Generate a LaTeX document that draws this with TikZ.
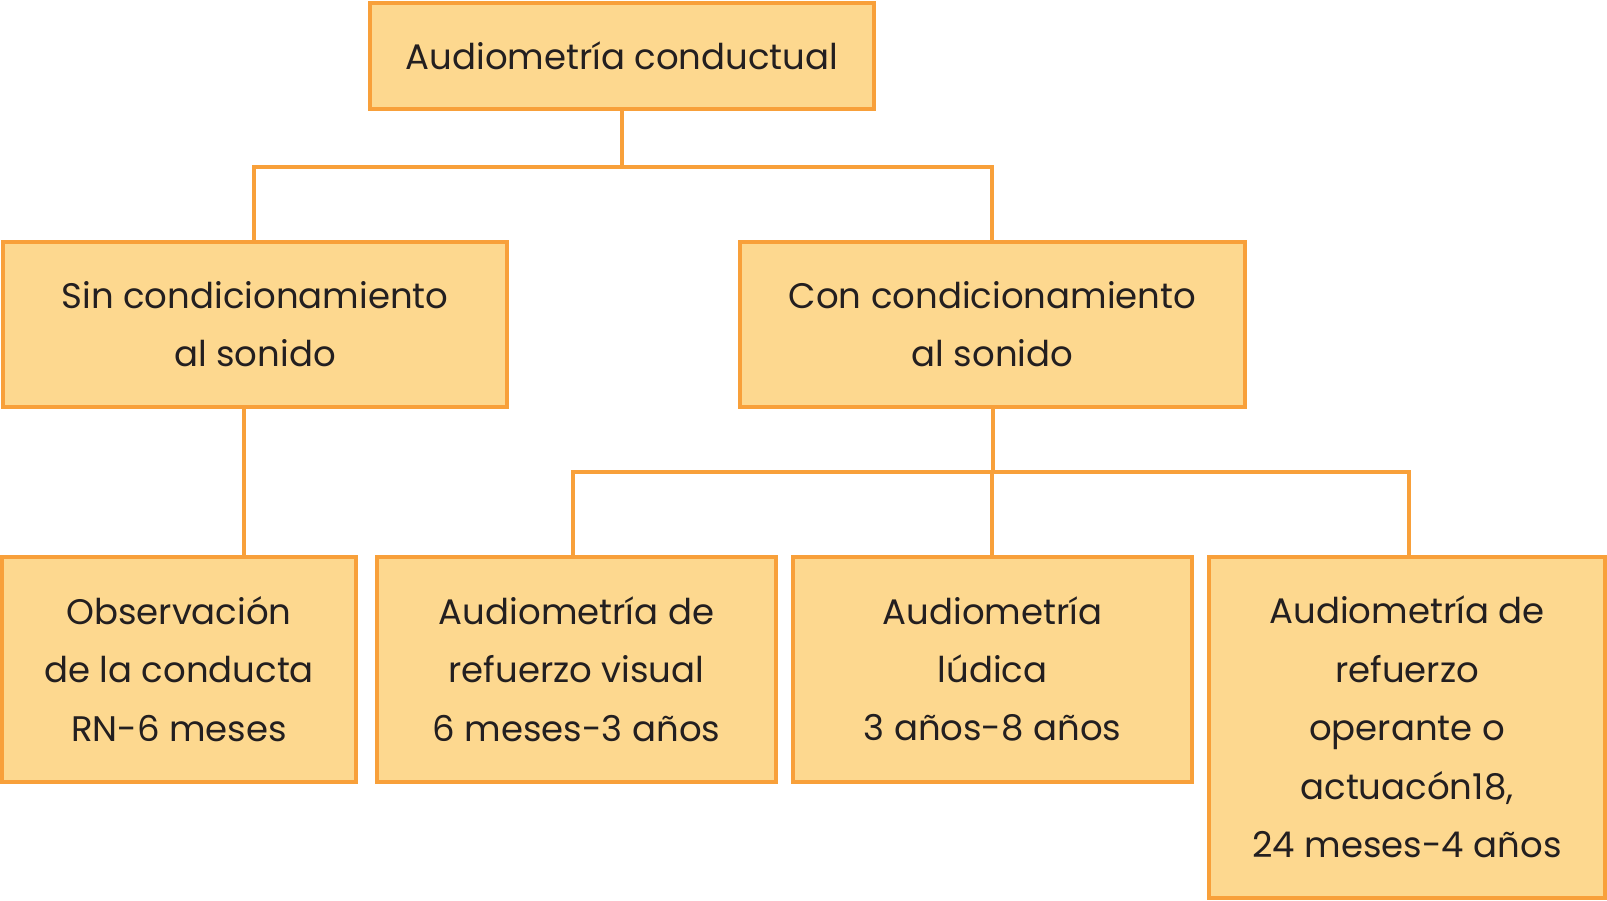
\documentclass[tikz,border=0pt]{standalone}
\usepackage{fontspec}
\setmainfont{Poppins}
\definecolor{boxfill}{HTML}{FDD88F}
\definecolor{boxline}{HTML}{F8A03A}
\definecolor{txt}{HTML}{231F20}
\tikzset{
  box/.style={draw=boxline, fill=boxfill, line width=4pt, align=center, inner sep=0pt,
    text=txt, font=\fontsize{35.5}{58.4}\selectfont},
  conn/.style={draw=boxline, line width=4pt, line cap=rect}
}
\begin{document}
\begin{tikzpicture}[x=1pt,y=-1pt]
\useasboundingbox (0,0) rectangle (1607,900);
\coordinate (h1L) at (254,167);
\coordinate (h1R) at (992,167);
\coordinate (s2) at (244,407);
\coordinate (h2L) at (573,472);
\coordinate (h2M) at (992,472);
\coordinate (h2R) at (1409,472);
\node[box, minimum width=504pt, minimum height=106pt] (top) at (622,56) {Audiometría conductual};
\node[box, minimum width=504pt, minimum height=165pt] (sin) at (255,324) {Sin condicionamiento\\al sonido};
\node[box, minimum width=505pt, minimum height=165pt] (con) at (992.5,324) {Con condicionamiento\\al sonido};
\node[box, minimum width=354pt, minimum height=225pt] (obs) at (179,669) {Observación\\de la conducta\\RN-6 meses};
\node[box, minimum width=399pt, minimum height=225pt] (vis) at (576.5,669) {Audiometría de\\refuerzo visual\\6 meses-3 años};
\node[box, minimum width=399pt, minimum height=225pt] (lud) at (992.5,669) {Audiometría\\lúdica\\3 años-8 años};
\node[box, minimum width=396pt, minimum height=341pt] (ope) at (1407,727) {Audiometría de\\refuerzo\\operante o\\actuacón18,\\24 meses-4 años};
\draw[conn] (top.south) -- (top.south |- h1L);
\draw[conn] (h1L) -- (h1R);
\draw[conn] (h1L) -- (h1L |- sin.north);
\draw[conn] (h1R) -- (h1R |- con.north);
\draw[conn] (s2) -- (s2 |- obs.north);
\draw[conn] (con.south) -- (con.south |- h2M);
\draw[conn] (h2L) -- (h2R);
\draw[conn] (h2L) -- (h2L |- vis.north);
\draw[conn] (h2M) -- (h2M |- lud.north);
\draw[conn] (h2R) -- (h2R |- ope.north);
\end{tikzpicture}
\end{document}
